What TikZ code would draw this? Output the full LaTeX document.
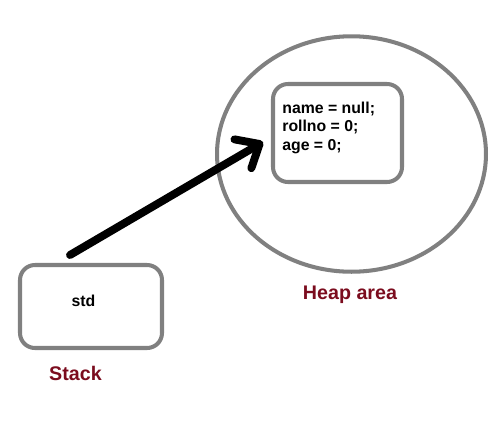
\documentclass[tikz,border=0pt]{standalone}
\usepackage{fontspec}
\setmainfont{Liberation Sans}
\usetikzlibrary{arrows.meta,shapes.geometric}
\definecolor{boxgray}{HTML}{808080}
\definecolor{labelred}{HTML}{7B0C1E}
\tikzset{
    membox/.style={draw=boxgray, line width=2.3pt, rounded corners=8.5pt, inner sep=0pt},
    areatext/.style={text=labelred, font=\fontsize{11.2}{13}\selectfont\bfseries},
    codetext/.style={font=\fontsize{9}{10.5}\selectfont\bfseries, inner sep=0pt}
}
\begin{document}
\begin{tikzpicture}[x=0.02cm, y=-0.02cm]
    \useasboundingbox (0, 0) rectangle (500, 430);
    % heap
    \node[ellipse, draw=boxgray, line width=2.3pt, inner sep=0pt,
          minimum width=5.38cm, minimum height=4.71cm] (heap) at (351.5, 154) {};
    \node[membox, minimum width=2.58cm, minimum height=1.96cm] (object) at (337.5, 133) {};
    \node[codetext, anchor=base west, align=left] (fields) at (282, 150)
        {name = null;\\rollno = 0;\\age = 0;};
    \node[areatext, anchor=base] (heaplabel) at (350, 299) {Heap area};
    % stack
    \node[membox, minimum width=2.84cm, minimum height=1.66cm] (stack) at (91, 306.5) {};
    \node[codetext, anchor=base] (ref) at (83.5, 306) {std};
    \node[areatext, anchor=base] (stacklabel) at (75.5, 380) {Stack};
    % reference arrow
    \coordinate (tail) at (70, 255);
    \coordinate (tip) at (263, 142);
    \draw[line width=4.5pt, line cap=round,
          -{Straight Barb[length=11pt, width=19pt, round]}] (tail) -- (tip);
\end{tikzpicture}
\end{document}
